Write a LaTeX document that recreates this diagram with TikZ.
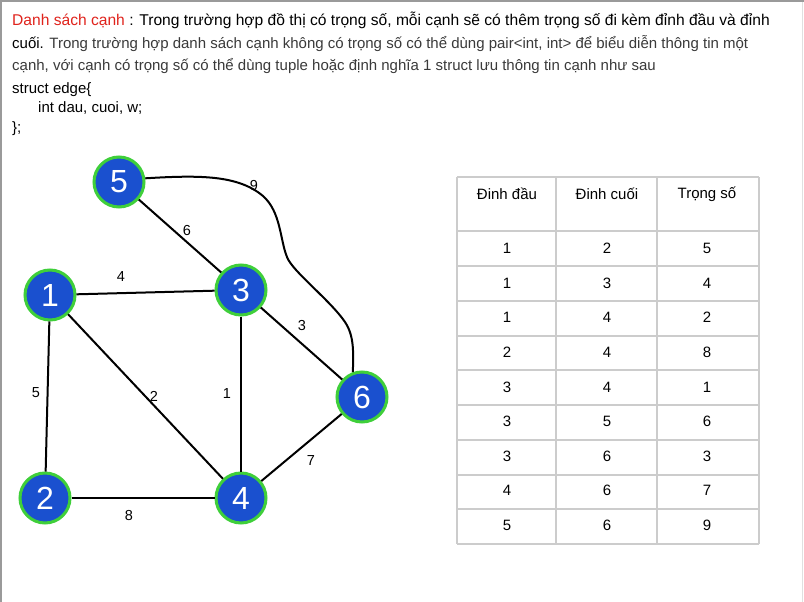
\documentclass[tikz,border=0pt]{standalone}
\usepackage{fontspec}
\setmainfont{Liberation Sans}
\definecolor{nodeblue}{HTML}{1A50CF}
\definecolor{nodegreen}{HTML}{3FCF3A}
\definecolor{titlered}{HTML}{E0231C}
\definecolor{bodygray}{HTML}{3A3A3A}
\definecolor{gridgray}{HTML}{CCCCCC}
\definecolor{framegray}{HTML}{9A9A9A}
\begin{document}
\begin{tikzpicture}[x=1pt,y=-1pt,
  vert/.style={circle, fill=nodeblue, draw=nodegreen, line width=3pt,
    minimum size=50pt, inner sep=0pt, text=white,
    font=\fontsize{32}{32}\selectfont},
  wlabel/.style={inner sep=0pt, font=\fontsize{14.5}{14.5}\selectfont},
  link/.style={line width=2pt, black},
  textline/.style={anchor=base west, inner sep=0pt,
    font=\fontsize{15}{18}\selectfont},
  cell/.style={inner sep=0pt, font=\fontsize{15}{18}\selectfont},
  grid/.style={gridgray, line width=1.3pt}]
\useasboundingbox (0,0) rectangle (804,602);
\fill[white] (0,0) rectangle (804,602);
% window frame
\draw[framegray, line width=2pt] (1,602) -- (1,1) -- (804,1);
\draw[gridgray!60, line width=1pt] (802.5,2) -- (802.5,602);

% description text
\node[textline, font=\fontsize{15.6}{18}\selectfont] (t1) at (12,26) {\textcolor{titlered}{Danh sách cạnh} : Trong trường hợp đồ thị có trọng số, mỗi cạnh sẽ có thêm trọng số đi kèm đỉnh đầu và đỉnh};
\node[textline] (t2) at (12,49) {cuối. \textcolor{bodygray}{Trong trường hợp danh sách cạnh không có trọng số có thể dùng pair<int, int> để biểu diễn thông tin một}};
\node[textline, text=bodygray] (t3) at (12,71) {cạnh, với cạnh có trọng số có thể dùng tuple hoặc định nghĩa 1 struct lưu thông tin cạnh như sau};
\node[textline] (t4) at (12,93) {struct edge\{};
\node[textline] (t5) at (38,113) {int dau, cuoi, w;};
\node[textline] (t6) at (12,132) {\};};

% graph vertices
\node[vert] (n5) at (119,182) {5};
\node[vert] (n1) at (50,295) {1};
\node[vert] (n3) at (241,290) {3};
\node[vert] (n6) at (362,397) {6};
\node[vert] (n2) at (45,498) {2};
\node[vert] (n4) at (241,498) {4};

% graph edges
\draw[link] (n1) -- (n3);
\draw[link] (n5) -- (n3);
\draw[link] (n1) -- (n2);
\draw[link] (n1) -- (n4);
\draw[link] (n3) -- (n4);
\draw[link] (n3) -- (n6);
\draw[link] (n4) -- (n6);
\draw[link] (n2) -- (n4);
\draw[link] (n5.8) .. controls (200,175) and (238,175) .. (263,196)
  .. controls (281,212) and (280,240) .. (287,257)
  .. controls (292,271) and (330,300) .. (345,322)
  .. controls (355,337) and (353,355) .. (n6.110);

% edge weights
\node[wlabel] (w13) at (121,277) {4};
\node[wlabel] (w35) at (187,231) {6};
\node[wlabel] (w56) at (254,186) {9};
\node[wlabel] (w36) at (302,326) {3};
\node[wlabel] (w12) at (36,393) {5};
\node[wlabel] (w14) at (154,396) {2};
\node[wlabel] (w34) at (227,394) {1};
\node[wlabel] (w46) at (311,461) {7};
\node[wlabel] (w24) at (129,516) {8};

% edge list table
\foreach \x in {457,556,657,759} \draw[grid] (\x,177) -- (\x,544);
\foreach \y in {177,231,266,301,336,370,405,440,475,509,544} \draw[grid] (457,\y) -- (759,\y);
\node[cell] (h1) at (507,194) {Đinh đầu};
\node[cell] (h2) at (607,194) {Đinh cuối};
\node[cell] (h3) at (707,194) {Trọng số};
\foreach \a/\b/\w [count=\i] in {1/2/5,1/3/4,1/4/2,2/4/8,3/4/1,3/5/6,3/6/3,4/6/7,5/6/9}{
  \pgfmathsetmacro{\yc}{248.5+34.6*(\i-1)}
  \node[cell] (a\i) at (507,\yc) {\a};
  \node[cell] (b\i) at (607,\yc) {\b};
  \node[cell] (c\i) at (707,\yc) {\w};
}
\end{tikzpicture}
\end{document}
